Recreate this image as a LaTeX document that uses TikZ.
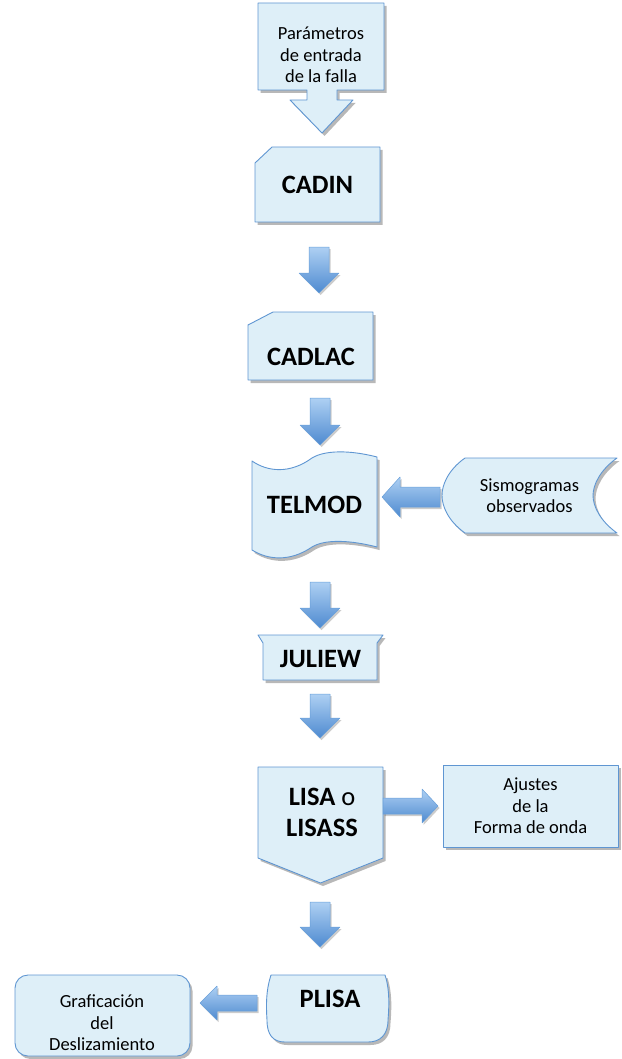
\documentclass[tikz,border=0pt]{standalone}
\usepackage{fontspec}
\setmainfont{Carlito}
\usetikzlibrary{calc,shadows}
\definecolor{boxfill}{RGB}{222,239,248}
\definecolor{boxline}{RGB}{95,150,210}
\definecolor{arrtop}{RGB}{174,208,243}
\definecolor{arrbot}{RGB}{78,138,208}
\definecolor{arrline}{RGB}{105,160,218}
\tikzset{
  frame/.style={inner sep=0pt, outer sep=0pt, align=center},
  plain/.style={font=\fontsize{18.5}{21.5}\selectfont, align=center},
  title/.style={font=\bfseries\fontsize{26.5}{31}\selectfont, align=center},
  outline/.style={fill=boxfill, draw=boxline, line width=0.9pt, line join=round,
    drop shadow={shadow xshift=2.5pt, shadow yshift=-3pt, opacity=0.28, fill=black}},
  blockarrow/.style={top color=arrtop, bottom color=arrbot, draw=arrline, line width=0.5pt, line join=round,
    drop shadow={shadow xshift=1.5pt, shadow yshift=-2pt, opacity=0.2, fill=black}},
}
% down arrow: #1 tail point, #2 tip point (only y used)
\newcommand\flowdown[2]{\path[blockarrow] let \p1=#1, \p2=#2 in
  (\x1-10pt,\y1) -- (\x1+10pt,\y1) -- (\x1+10pt,\y2+20pt) -- (\x1+20pt,\y2+20pt) -- (\x1,\y2)
  -- (\x1-20pt,\y2+20pt) -- (\x1-10pt,\y2+20pt) -- cycle;}
% left arrow: #1 tail, #2 tip (x used), #3 head half, #4 shaft half, #5 head length
\newcommand\flowleft[5]{\path[blockarrow] let \p1=#1, \p2=#2 in
  (\x1,\y1+#4) -- (\x2+#5,\y1+#4) -- (\x2+#5,\y1+#3) -- (\x2,\y1) -- (\x2+#5,\y1-#3)
  -- (\x2+#5,\y1-#4) -- (\x1,\y1-#4) -- cycle;}
\newcommand\flowright[5]{\path[blockarrow] let \p1=#1, \p2=#2 in
  (\x1,\y1+#4) -- (\x2-#5,\y1+#4) -- (\x2-#5,\y1+#3) -- (\x2,\y1) -- (\x2-#5,\y1-#3)
  -- (\x2-#5,\y1-#4) -- (\x1,\y1-#4) -- cycle;}
\begin{document}
\begin{tikzpicture}[x=1pt,y=-1pt]
\useasboundingbox (0,0) rectangle (621,1059);
% ---------- shapes ----------
\path[outline] (258,3) -- (384,3) -- (384,90) -- (337,90) -- (337,100) -- (353,100) -- (322,133)
  -- (290,100) -- (307,100) -- (307,90) -- (258,90) -- cycle;
\path[outline] (272,147) -- (380,147) -- (380,222) -- (255,222) -- (255,163) -- cycle;
\path[outline] (273,312) -- (373,312) -- (373,380) -- (248,380) -- (248,325) -- cycle;
\path[outline] (252,461) .. controls (268,472) and (290,474) .. (312,458)
  .. controls (325,450) and (350,450) .. (377,457) -- (377,547)
  .. controls (350,540) and (325,539) .. (312,547)
  .. controls (290,562) and (268,560) .. (252,550) -- cycle;
\path[outline] (465,458) -- (617,458) .. controls (600,470) and (593,485) .. (593,495.5)
  .. controls (593,506) and (600,521) .. (617,533) -- (465,533)
  .. controls (448,521) and (442,506) .. (442,495.5)
  .. controls (442,485) and (448,470) .. (465,458) -- cycle;
\path[outline] (258,635) -- (383,635) -- (377,643) -- (377,680) -- (263,680) -- (263,643) -- cycle;
\path[outline] (258,767) -- (383,767) -- (383,858) -- (320.5,883) -- (258,858) -- cycle;
\path[outline] (443,765) rectangle (618,847);
\path[outline] (271,975) -- (385,975) .. controls (390,990) and (389,1008) .. (388,1020)
  .. controls (388,1035) and (380,1042) .. (368,1042) -- (285,1042)
  .. controls (273,1042) and (267,1035) .. (267,1020)
  .. controls (266,1005) and (266,990) .. (271,975) -- cycle;
\path[outline, rounded corners=13pt] (15,975) rectangle (190,1056);
% ---------- nodes ----------
\node[plain] (param) at (321,55) {Parámetros\\de entrada\\de la falla};
\node[frame,title,minimum width=125,minimum height=75] (cadin) at (317.5,184.5) {CADIN};
\node[frame,minimum width=125,minimum height=68] (cadlac) at (310.5,346) {};
\node[title] (cadlac-t) at (311,357) {CADLAC};
\node[frame,title,minimum width=125,minimum height=106] (telmod) at (314.5,505) {TELMOD};
\node[frame,plain,minimum width=175,minimum height=75] (sismo) at (529.5,495.5) {Sismogramas\\observados};
\node[frame,title,minimum width=125,minimum height=45] (juliew) at (320.5,658.5) {JULIEW};
\node[frame,minimum width=125,minimum height=116] (lisa) at (320.5,825) {};
\node[title] (lisa-t) at (322,812) {LISA {\mdseries o}\\LISASS};
\node[frame,plain,minimum width=175,minimum height=82] (ajustes) at (530.5,806) {Ajustes\\de la\\Forma de onda};
\node[frame,minimum width=121,minimum height=67] (plisa) at (327.5,1008.5) {};
\node[title] (plisa-t) at (330,999) {PLISA};
\node[frame,minimum width=175,minimum height=81] (graf) at (102.5,1015.5) {};
\node[plain] (graf-t) at (102,1023) {Graficación\\del\\Deslizamiento};
% ---------- connectors ----------
\flowdown{($(cadin.south)+(1.5,25)$)}{($(cadlac.north)+(0,-19)$)}
\flowdown{($(cadlac.south)+(9.5,18)$)}{($(telmod.north)+(0,-7)$)}
\flowdown{($(telmod.south)+(5.5,24)$)}{($(juliew.north)+(0,-8)$)}
\flowdown{($(juliew.south)+(-0.5,13)$)}{($(lisa.north)+(0,-29)$)}
\flowdown{($(lisa.south)+(-0.5,19)$)}{($(plisa.north)+(0,-28)$)}
\flowleft{($(sismo.west)+(-2,1.5)$)}{($(telmod.east)+(5,0)$)}{20pt}{10pt}{18pt}
\flowright{(lisa.east |- ajustes.west)}{($(ajustes.west)+(-5,0)$)}{17pt}{8pt}{16pt}
\flowleft{($(plisa.west)+(-10,-5.5)$)}{($(graf.east)+(10,0)$)}{17pt}{8pt}{17pt}
\end{tikzpicture}
\end{document}
